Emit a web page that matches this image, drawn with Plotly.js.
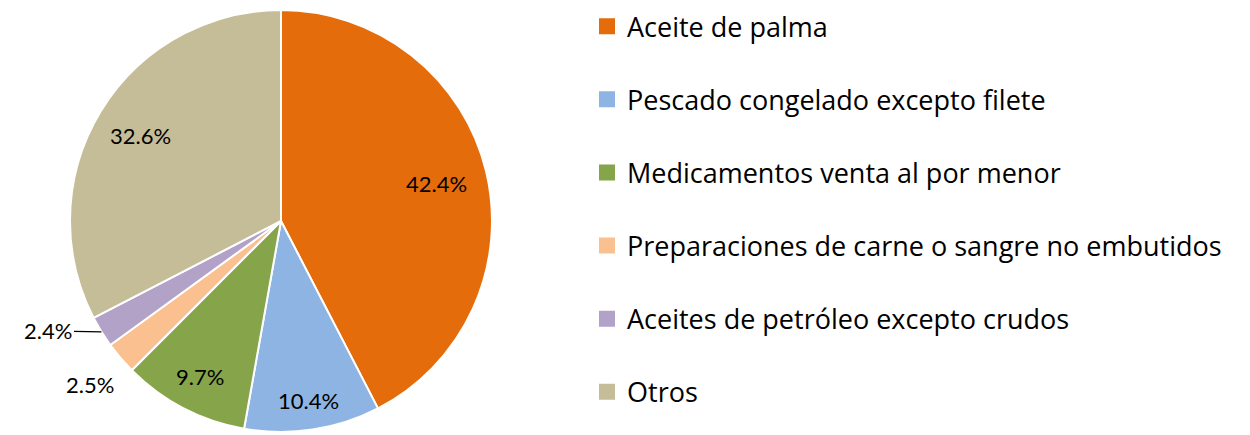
<!DOCTYPE html>
<html><head><meta charset="utf-8">
<script src="https://cdn.plot.ly/plotly-3.0.1.min.js"></script>
<style>html,body{margin:0;padding:0;background:#fff}#chart{width:1250px;height:435px}</style>
</head><body><div id="chart"></div>
<script>
const categories = ["Aceite de palma","Pescado congelado excepto filete","Medicamentos venta al por menor","Preparaciones de carne o sangre no embutidos","Aceites de petróleo excepto crudos","Otros"];
const shares = [42.4, 10.4, 9.7, 2.5, 2.4, 32.6];
const colors = ["#E46C0A","#8EB4E3","#86A44A","#FAC090","#B3A2C7","#C4BD97"];

const W = 1250, H = 435;
const FONT = "'Open Sans', Lato, sans-serif";
const LABEL_FONT = "Lato, 'Open Sans', sans-serif";
const pieDomain = {x: [0.056, 0.3936], y: [0.0069, 0.977]};
// label placement (radius as fraction of pie radius) per slice
const labelRadius = [0.76, 0.86, 0.83, 1.19, 1.0, 0.78];
const labelLeader = [null, null, null, null, {ax: -53, ay: -1}, null];

const traces = [{
  type: "pie",
  labels: categories,
  values: shares,
  sort: false,
  direction: "clockwise",
  rotation: 0,
  marker: {colors: colors, line: {color: "#ffffff", width: 2}},
  textinfo: "none",
  hoverinfo: "none",
  showlegend: false,
  domain: pieDomain
}];
categories.forEach((c, i) => {
  traces.push({
    type: "scatter", mode: "markers", x: [null], y: [null], name: c,
    legendgroup: "g" + i,
    marker: {symbol: "square", size: 16, color: colors[i]},
    hoverinfo: "none"
  });
});

// percentage labels placed from the data (slice mid-angles)
const total = shares.reduce((a, b) => a + b, 0);
const cxPx = (pieDomain.x[0] + pieDomain.x[1]) / 2 * W;
const cyPx = (1 - (pieDomain.y[0] + pieDomain.y[1]) / 2) * H;
const R = Math.min((pieDomain.x[1] - pieDomain.x[0]) * W, (pieDomain.y[1] - pieDomain.y[0]) * H) / 2;
const annotations = [];
let cum = 0;
shares.forEach((v, i) => {
  const mid = (cum + v / 2) / total * 2 * Math.PI;
  cum += v;
  const r = labelRadius[i] * R;
  const px = cxPx + r * Math.sin(mid);
  const py = cyPx - r * Math.cos(mid);
  const lead = labelLeader[i];
  const a = {
    xref: "paper", yref: "paper", x: px / W, y: 1 - py / H,
    text: v.toFixed(1) + "%",
    font: {family: LABEL_FONT, size: 22, color: "#000"},
    showarrow: false, xanchor: "center", yanchor: "middle"
  };
  if (lead) {
    a.showarrow = true; a.arrowhead = 0; a.arrowwidth = 1.3; a.arrowcolor = "#000";
    a.ax = lead.ax; a.ay = lead.ay; a.standoff = 0; a.startstandoff = 0;
    delete a.xanchor; delete a.yanchor;
  }
  annotations.push(a);
});

const layout = {
  width: W, height: H,
  margin: {l: 0, r: 0, t: 0, b: 0},
  paper_bgcolor: "#fff", plot_bgcolor: "#fff",
  xaxis: {visible: false}, yaxis: {visible: false},
  showlegend: true,
  legend: {x: 0.4696, y: 0.995, xanchor: "left", yanchor: "top",
    font: {family: FONT, size: 27, color: "#000"},
    tracegroupgap: 35, itemclick: false, itemdoubleclick: false},
  annotations: annotations,
  font: {family: FONT}
};
Plotly.newPlot("chart", traces, layout, {staticPlot: true});
</script></body></html>
